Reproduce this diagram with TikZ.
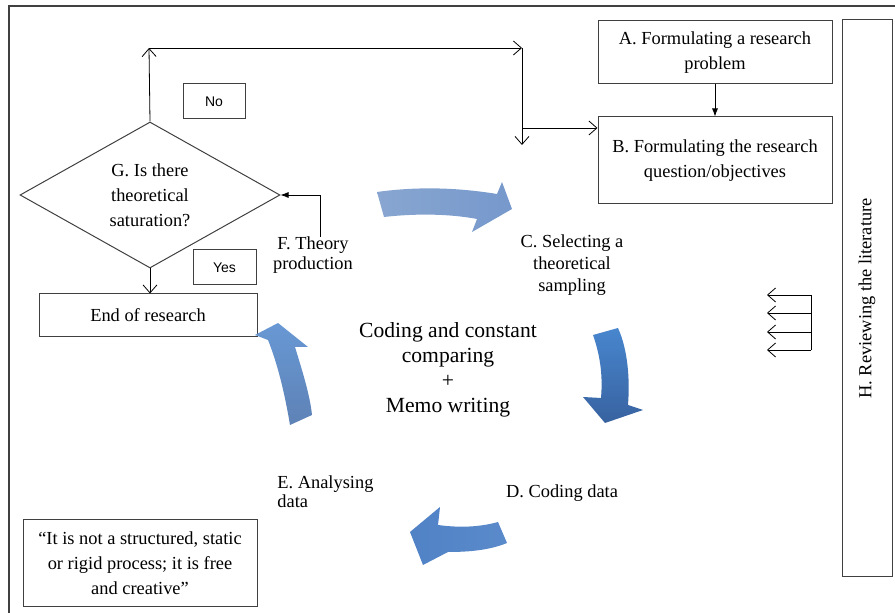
\documentclass[tikz,border=0pt]{standalone}
\usepackage{fontspec}
\setmainfont{Liberation Serif}
\newfontfamily\labelsans{Liberation Sans}
\usetikzlibrary{shapes.geometric, positioning, arrows.meta}
\definecolor{framegray}{HTML}{404040}
\tikzset{
x=0.5pt, y=-0.5pt, % one unit is one pixel of the original
>={Straight Barb[length=4pt,width=7pt]}, % thin open heads
every node/.style={font=\fontsize{9.2}{12.5}\selectfont},
box/.style={draw=framegray, line width=0.5pt, align=center, inner sep=1pt}, % the plain boxes
answer/.style={draw=framegray, line width=0.5pt, font=\labelsans\fontsize{7}{8}\selectfont, minimum height=17.5pt},
steplabel/.style={align=center},
bluearrow/.style={draw=none}, % the four curved arrows of the cycle
}

\begin{document}
\begin{tikzpicture}
\useasboundingbox (0,0) rectangle (895,613);
\draw[framegray, line width=0.8pt] (9,613) -- (9,6) -- (895,6);
\node[box, minimum width=117pt, minimum height=31.5pt] (A) at (715,52.5) {A. Formulating a research\\problem};
\node[box, minimum width=117pt, minimum height=43.5pt] (B) at (715,160.5) {B. Formulating the research\\question/objectives};
\node[box, rotate=90, minimum width=278.5pt, minimum height=25pt] (H) at (867,298.5) {H. Reviewing the literature};
\node[draw=framegray, line width=0.5pt, diamond, aspect=1.78, inner sep=0pt, minimum width=130pt, minimum height=73pt, align=center] (G) at (150,195) {G. Is there\\theoretical\\saturation?};
\node[answer, minimum width=31pt] (no) at (214,101.5) {No};
\node[answer, minimum width=31.5pt] (yes) at (224.5,267.5) {Yes};
\node[box, minimum width=109pt, minimum height=21.5pt] (end) at (148,315.5) {End of research};
\node[box, minimum width=117pt, minimum height=43.5pt] (quote) at (140,563.5) {``It is not a structured, static\\or rigid process; it is free\\and creative''};
\node[steplabel, font=\fontsize{9.2}{10}\selectfont] (F) at (313,255) {F. Theory\\production};
\node[steplabel, font=\fontsize{9.2}{11}\selectfont] (C) at (572,265) {C. Selecting a\\theoretical\\sampling};
\node[steplabel] (D) at (562,493) {D. Coding data};
\node[align=left, anchor=west, inner sep=0pt, font=\fontsize{9.2}{9.5}\selectfont] (E) at (277,492) {E. Analysing\\data};
\node[steplabel, font=\fontsize{10.8}{12.5}\selectfont] (core) at (448,370) {Coding and constant\\comparing\\+\\Memo writing};
\coordinate (nw) at (149,48);
\coordinate (ne) at (522,48);
\coordinate (nd) at (522,145);
\coordinate (nj) at (522,128);
\coordinate (fup) at (320,237);
\draw[->] (G.north) -- (nw);
\draw[->] (nw) -- (ne);
\draw[->] (ne) -- (nd);
\draw[->] (nj) -- (nj -| B.west);
\draw[-{Latex[length=4pt]}] (A.south) -- (B.north);
\draw[-{Latex[length=4pt]}] (fup) |- (G.east);
\draw[->] (G.south) -- (G.south |- end.north);
\draw (811,295) -- (811,350);
\foreach \y in {295,313,332,350}
  \draw[->] (811,\y) -- (767,\y);
\shade[bluearrow, left color={rgb,255:red,136;green,166;blue,208}, right color={rgb,255:red,118;green,152;blue,204}]
  (377,192) .. controls (420,186) and (460,188) .. (497,194) -- (502,182) -- (512,209) -- (472,232) -- (477,219) .. controls (445,213) and (410,214) .. (384,217) -- cycle;
\shade[bluearrow, top color={rgb,255:red,72;green,134;blue,206}, bottom color={rgb,255:red,56;green,98;blue,160}]
  (593,335) -- (618,328) .. controls (628,350) and (630,380) .. (628,405) -- (643,410) -- (605,423) -- (583,397) -- (601,398) .. controls (603,375) and (600,355) .. (593,335) -- cycle;
\shade[bluearrow, left color={rgb,255:red,80;green,130;blue,198}, right color={rgb,255:red,90;green,138;blue,202}]
  (498,522) .. controls (480,527) and (460,528) .. (438,525) -- (440,507) -- (410,532) -- (423,565) -- (448,552) .. controls (470,552) and (490,550) .. (507,543) -- cycle;
\shade[bluearrow, top color={rgb,255:red,104;green,152;blue,212}, bottom color={rgb,255:red,94;green,130;blue,182}]
  (290,425) .. controls (285,395) and (278,365) .. (268,340) -- (255,335) -- (278,323) -- (308,347) -- (295,347) .. controls (302,370) and (310,395) .. (312,415) -- cycle;
\end{tikzpicture}
\end{document}
